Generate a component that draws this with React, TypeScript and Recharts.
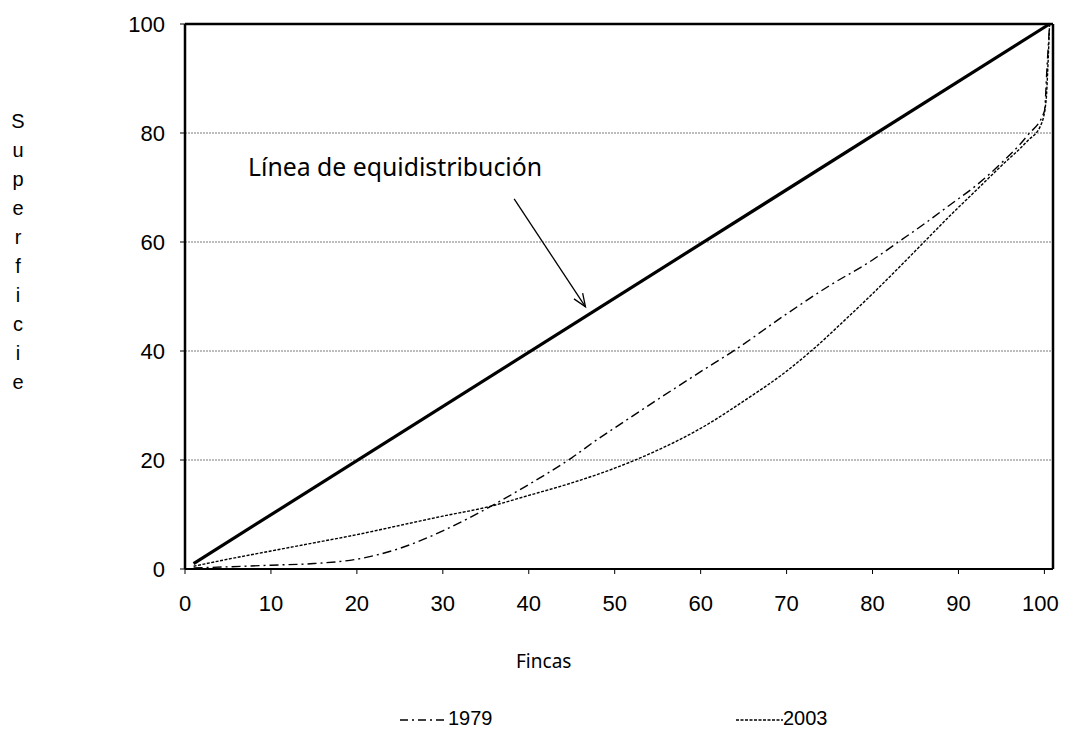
import React from "react";
import { LineChart, Line, XAxis, YAxis, CartesianGrid, ReferenceLine } from "recharts";

const xTicks = [0, 10, 20, 30, 40, 50, 60, 70, 80, 90, 100];
const yTicks = [0, 20, 40, 60, 80, 100];

const equiX = [1, 100.6];
const equiY = [1, 100];

const x1979 = [1, 5, 10, 15, 20, 25, 30, 35, 40, 45, 48, 50, 55, 60, 64, 70, 75, 80, 83, 86, 89, 92, 95, 98, 100, 100.3, 100.6];
const y1979 = [0.2, 0.4, 0.7, 1.0, 1.8, 3.8, 7, 11, 15.5, 20.4, 23.8, 25.9, 31.1, 36.2, 40.2, 46.8, 52, 56.7, 60, 63.3, 66.8, 70.3, 74.5, 79.5, 84, 92, 100];

const x2003 = [1, 5, 10, 15, 20, 25, 30, 35, 40, 45, 50, 55, 60, 65, 70, 73, 77, 80, 83, 86, 89, 92, 95, 98, 99.6, 100.2, 100.4, 100.6];
const y2003 = [0.5, 1.8, 3.3, 4.8, 6.3, 8, 9.7, 11.3, 13.5, 15.8, 18.5, 21.8, 25.8, 30.8, 36.3, 40.2, 46, 50.5, 55.2, 60, 64.8, 69.4, 74, 78.5, 81.5, 86, 92, 100];

const arrowFrom = { x: 38.3, y: 67.9 };
const arrowTo = { x: 46.6, y: 48.1 };

const yLabel = "Superficie";
const xLabel = "Fincas";
const annotation = "Línea de equidistribución";
const legendNames = ["1979", "2003"];

const zip = (xs: number[], ys: number[]) => xs.map((x, i) => ({ x, y: ys[i] }));

const equiData = zip(equiX, equiY);
const data1979 = zip(x1979, y1979);
const data2003 = zip(x2003, y2003);

const tickFont = { fontFamily: "Liberation Sans, Arial, sans-serif", fontSize: 22, fill: "#000" };

const XTick = (props: any) => {
  const { x, y, payload } = props;
  const shift = payload.value === 100 ? -4 : 0;
  return (
    <text x={x + shift} y={y} dy="0.71em" textAnchor="middle" {...tickFont}>
      {payload.value}
    </text>
  );
};

const ArrowShape = (props: any) => {
  const { x1, y1, x2, y2 } = props;
  if ([x1, y1, x2, y2].some((v) => typeof v !== "number" || isNaN(v))) return null;
  const ang = Math.atan2(y2 - y1, x2 - x1);
  const len = 14;
  const spread = 0.38;
  const ax = x2 - len * Math.cos(ang - spread);
  const ay = y2 - len * Math.sin(ang - spread);
  const bx = x2 - len * Math.cos(ang + spread);
  const by = y2 - len * Math.sin(ang + spread);
  return (
    <g>
      <line x1={x1} y1={y1} x2={x2} y2={y2} stroke="#000" strokeWidth={1.3} />
      <polyline points={`${ax},${ay} ${x2},${y2} ${bx},${by}`} fill="none" stroke="#000" strokeWidth={1.3} />
    </g>
  );
};

export default function App() {
  return (
    <div style={{ position: "relative", width: 1052, height: 720, background: "#fff" }}>
      <LineChart
        width={1058}
        height={720}
        margin={{ top: 16, right: 13, bottom: 129, left: 117 }}
      >
        <CartesianGrid horizontal vertical={false} stroke="#7a7a7a" strokeDasharray="2 1" />
        <XAxis
          type="number"
          dataKey="x"
          domain={[0, 101]}
          ticks={xTicks}
          allowDataOverflow
          height={30}
          stroke="#000"
          strokeWidth={2}
          tickSize={5}
          tickMargin={21}
          tick={XTick}
          tickLine={{ stroke: "#000", strokeWidth: 1 }}
        />
        <YAxis
          type="number"
          dataKey="y"
          domain={[0, 100]}
          ticks={yTicks}
          width={60}
          stroke="#000"
          strokeWidth={2.5}
          tickSize={5}
          tickMargin={15}
          tick={tickFont}
          tickLine={{ stroke: "#000", strokeWidth: 1 }}
        />
        <ReferenceLine y={100} stroke="#000" strokeWidth={2.5} />
        <ReferenceLine x={101} stroke="#000" strokeWidth={2.5} />
        <Line data={equiData} dataKey="y" type="linear" stroke="#000" strokeWidth={3.2} dot={false} isAnimationActive={false} legendType="none" />
        <Line data={data1979} dataKey="y" name="1979" type="monotone" stroke="#000" strokeWidth={1.4} strokeDasharray="9 4 2 4" dot={false} isAnimationActive={false} />
        <Line data={data2003} dataKey="y" name="2003" type="monotone" stroke="#000" strokeWidth={1.4} strokeDasharray="3 1.5" dot={false} isAnimationActive={false} />
        <ReferenceLine segment={[arrowFrom, arrowTo]} stroke="#000" shape={ArrowShape} />
      </LineChart>
      <div
        style={{
          position: "absolute",
          left: 240,
          top: 141,
          fontFamily: "Noto Sans, sans-serif",
          fontSize: 24.8,
          whiteSpace: "nowrap",
        }}
      >
        {annotation}
      </div>
      <div
        style={{
          position: "absolute",
          left: 508,
          top: 640,
          fontFamily: "Noto Sans, sans-serif",
          fontSize: 19,
        }}
      >
        {xLabel}
      </div>
      <div
        style={{
          position: "absolute",
          left: 0,
          top: 99,
          width: 20,
          textAlign: "center",
          fontFamily: "Liberation Sans, Arial, sans-serif",
          fontSize: 20,
          lineHeight: "29px",
        }}
      >
        {yLabel.split("").map((c, i) => (
          <div key={i}>{c}</div>
        ))}
      </div>
      <div style={{ position: "absolute", left: 0, top: 700, width: 1000, height: 20, fontFamily: "Liberation Sans, Arial, sans-serif", fontSize: 20, lineHeight: "20px" }}>
        <div style={{ position: "absolute", left: 392, top: 0, display: "flex", alignItems: "center" }}>
          <svg width={48} height={20}>
            <line x1={0} y1={12} x2={46} y2={12} stroke="#000" strokeWidth={1.3} strokeDasharray="8 4 2 4" />
          </svg>
          <span>{legendNames[0]}</span>
        </div>
        <div style={{ position: "absolute", left: 728, top: 0, display: "flex", alignItems: "center" }}>
          <svg width={47} height={20}>
            <line x1={0} y1={12} x2={47} y2={12} stroke="#000" strokeWidth={1.3} strokeDasharray="3 1.5" />
          </svg>
          <span>{legendNames[1]}</span>
        </div>
      </div>
    </div>
  );
}
